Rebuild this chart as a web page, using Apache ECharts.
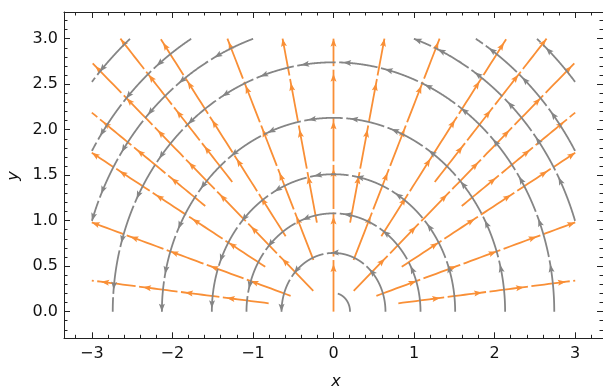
<!DOCTYPE html>
<html><head><meta charset="utf-8">
<script src="https://cdn.jsdelivr.net/npm/echarts@6/dist/echarts.min.js"></script>
<style>html,body{margin:0;padding:0;background:#fff}#c{width:603px;height:389px}</style>
</head><body><div id="c"></div>
<script>
// ---- data ----
const fieldX = [-3, 3];
const fieldY = [0, 3];
// orange (radial, outward) stream lines: direction angle (deg) and starting radius
const radialAngles = [90, 78.1, 66.3, 54.4, 48.6, 42.4, 36.1, 30.2, 18.1, 6.5,
                      101.9, 113.7, 125.6, 131.4, 137.6, 143.9, 149.8, 161.9, 173.5];
const radialStarts = [0, 1.0, 0.62, 1.02, 1.9, 0.34, 1.97, 0.98, 0.56, 0.81,
                      1.0, 0.62, 1.02, 1.9, 0.34, 1.97, 0.98, 0.56, 0.81];
// gray (circular, counter-clockwise) stream lines: radius, start/end angle (deg)
const arcRadii = [0.205, 0.645, 1.08, 1.51, 2.13, 2.74, 3.16, 3.48, 3.92];
const arcFrom  = [0, 0, 0, 0, 0, 0, 0, 0, 0];
const arcTo    = [75, 180, 180, 180, 180, 180, 180, 180, 180];
// ticks
const xMajor = [-3, -2, -1, 0, 1, 2, 3];
const xMinor = [-3.2, -2.8, -2.6, -2.4, -2.2, -1.8, -1.6, -1.4, -1.2, -0.8, -0.6, -0.4, -0.2,
                0.2, 0.4, 0.6, 0.8, 1.2, 1.4, 1.6, 1.8, 2.2, 2.4, 2.6, 2.8, 3.2];
const yMajor = [0, 0.5, 1, 1.5, 2, 2.5, 3];
const yMinor = [-0.2, -0.1, 0.1, 0.2, 0.3, 0.4, 0.6, 0.7, 0.8, 0.9, 1.1, 1.2, 1.3, 1.4,
                1.6, 1.7, 1.8, 1.9, 2.1, 2.2, 2.3, 2.4, 2.6, 2.7, 2.8, 2.9, 3.1, 3.2];
const xRange = [-3.345, 3.345];
const yRange = [-0.293, 3.293];

// ---- style ----
const ORANGE = '#f98f36';
const GRAY = '#858585';
const SEG = 0.523;      // arrow spacing along a stream line (data units)
const END_MIN = 0.3;    // min remainder to put an arrow at the end
const GAP_OFF = 4, GAP_LEN = 3.5; // px
const HL = 8, HW = 3;   // arrow head size px
const LW = 1.8;

const D2R = Math.PI / 180;
function inside(x, y) {
  return x >= fieldX[0] - 1e-9 && x <= fieldX[1] + 1e-9 && y >= fieldY[0] - 1e-9 && y <= fieldY[1] + 1e-9;
}
// radial lines
const orangeLines = radialAngles.map((a, i) => {
  const c = Math.cos(a * D2R), s = Math.sin(a * D2R);
  let re = Infinity;
  if (c > 1e-9) re = Math.min(re, fieldX[1] / c);
  if (c < -1e-9) re = Math.min(re, fieldX[0] / c);
  if (s > 1e-9) re = Math.min(re, fieldY[1] / s);
  const rs = radialStarts[i];
  const pts = [];
  const n = 40;
  for (let k = 0; k <= n; k++) {
    const r = rs + (re - rs) * k / n;
    pts.push([r * c, r * s]);
  }
  return pts;
});
// arcs (clipped to field)
const grayLines = [];
arcRadii.forEach((r, i) => {
  let run = [];
  const step = 0.1;
  for (let a = arcFrom[i]; a <= arcTo[i] + 1e-9; a += step) {
    const x = r * Math.cos(a * D2R), y = r * Math.sin(a * D2R);
    if (inside(x, y)) run.push([x, y]);
    else { if (run.length > 1) grayLines.push(run); run = []; }
  }
  if (run.length > 1) grayLines.push(run);
});

function makeRender(lines, color) {
  return function (params, api) {
    const pts = lines[api.value(2)];
    const px = pts.map(p => api.coord(p));
    const sd = [0], sp = [0];
    for (let i = 1; i < pts.length; i++) {
      sd.push(sd[i - 1] + Math.hypot(pts[i][0] - pts[i - 1][0], pts[i][1] - pts[i - 1][1]));
      sp.push(sp[i - 1] + Math.hypot(px[i][0] - px[i - 1][0], px[i][1] - px[i - 1][1]));
    }
    const L = sd[sd.length - 1], Lp = sp[sp.length - 1];
    function d2p(s) {
      let i = 1;
      while (i < sd.length - 1 && sd[i] < s) i++;
      const f = sd[i] > sd[i - 1] ? (s - sd[i - 1]) / (sd[i] - sd[i - 1]) : 0;
      return sp[i - 1] + (sp[i] - sp[i - 1]) * f;
    }
    function at(t) {
      let i = 1;
      while (i < sp.length - 1 && sp[i] < t) i++;
      const f = sp[i] > sp[i - 1] ? (t - sp[i - 1]) / (sp[i] - sp[i - 1]) : 0;
      const a = px[i - 1], b = px[i];
      return { p: [a[0] + (b[0] - a[0]) * f, a[1] + (b[1] - a[1]) * f], d: [b[0] - a[0], b[1] - a[1]], i: i };
    }
    const tips = [];
    let s = SEG;
    for (; s <= L + 1e-9; s += SEG) tips.push(s);
    const last = tips.length ? tips[tips.length - 1] : 0;
    if (L - last > END_MIN) tips.push(L);
    const tipsP = tips.map(d2p);
    const children = [];
    // line pieces
    let cur = 0;
    const pieces = [];
    tipsP.forEach(t => {
      const g0 = t + GAP_OFF, g1 = t + GAP_OFF + GAP_LEN;
      if (g0 >= Lp) return;
      if (g0 > cur) pieces.push([cur, g0]);
      cur = Math.max(cur, g1);
    });
    if (cur < Lp) pieces.push([cur, Lp]);
    pieces.forEach(([a, b]) => {
      const A = at(a), B = at(b);
      const pl = [A.p];
      for (let i = 0; i < sp.length; i++) if (sp[i] > a && sp[i] < b) pl.push(px[i]);
      pl.push(B.p);
      children.push({ type: 'polyline', shape: { points: pl }, style: { stroke: color, lineWidth: LW, fill: null } });
    });
    // arrow heads
    tipsP.forEach(t => {
      const T = at(t);
      const len = Math.hypot(T.d[0], T.d[1]) || 1;
      const u = [T.d[0] / len, T.d[1] / len], n = [-u[1], u[0]];
      const P = T.p;
      children.push({
        type: 'polygon',
        shape: { points: [
          P,
          [P[0] - u[0] * HL + n[0] * HW, P[1] - u[1] * HL + n[1] * HW],
          [P[0] - u[0] * HL * 0.8, P[1] - u[1] * HL * 0.8],
          [P[0] - u[0] * HL - n[0] * HW, P[1] - u[1] * HL - n[1] * HW]
        ] },
        style: { fill: color }
      });
    });
    return { type: 'group', children: children };
  };
}

const FRAME = '#222';
const LABEL = { color: '#111', fontSize: 16, fontFamily: 'DejaVu Sans' };
function xAx(pos, values, len, showLine, labels) {
  return {
    type: 'value', position: pos, min: xRange[0], max: xRange[1],
    axisLine: { show: showLine, onZero: false, lineStyle: { color: FRAME, width: 1 } },
    axisTick: { show: true, inside: true, length: len, customValues: values, lineStyle: { color: FRAME } },
    axisLabel: labels ? Object.assign({ show: true, margin: 8, customValues: values,
      formatter: v => (v < 0 ? '\u2212' + (-v) : String(v)) }, LABEL) : { show: false },
    splitLine: { show: false }
  };
}
function yAx(pos, values, len, showLine, labels) {
  return {
    type: 'value', position: pos, min: yRange[0], max: yRange[1],
    axisLine: { show: showLine, onZero: false, lineStyle: { color: FRAME, width: 1 } },
    axisTick: { show: true, inside: true, length: len, customValues: values, lineStyle: { color: FRAME } },
    axisLabel: labels ? Object.assign({ show: true, margin: 6, customValues: values,
      formatter: v => v.toFixed(1) }, LABEL) : { show: false },
    splitLine: { show: false }
  };
}

const chart = echarts.init(document.getElementById('c'), null, { renderer: 'canvas' });
chart.setOption({
  animation: false,
  backgroundColor: '#fff',
  grid: { left: 64, top: 12, width: 543.6, height: 326.3, containLabel: false },
  xAxis: [
    xAx('bottom', xMajor, 6, true, true),
    xAx('bottom', xMinor, 3.5, false, false),
    xAx('top', xMajor, 6, true, false),
    xAx('top', xMinor, 3.5, false, false)
  ],
  yAxis: [
    yAx('left', yMajor, 6, true, true),
    yAx('left', yMinor, 3.5, false, false),
    yAx('right', yMajor, 6, true, false),
    yAx('right', yMinor, 3.5, false, false)
  ],
  graphic: [
    { type: 'text', x: 336, y: 382, style: { text: 'x', font: 'italic 16px "DejaVu Sans"', fill: '#111', align: 'center', verticalAlign: 'middle' } },
    { type: 'text', x: 14, y: 176, rotation: Math.PI / 2, style: { text: 'y', font: 'italic 16px "DejaVu Sans"', fill: '#111', align: 'center', verticalAlign: 'middle' } }
  ],
  series: [
    { type: 'custom', name: 'radial', xAxisIndex: 0, yAxisIndex: 0, encode: { x: 0, y: 1 },
      data: orangeLines.map((_, i) => [0, 0, i]), renderItem: makeRender(orangeLines, ORANGE), silent: true },
    { type: 'custom', name: 'circular', xAxisIndex: 0, yAxisIndex: 0, encode: { x: 0, y: 1 },
      data: grayLines.map((_, i) => [0, 0, i]), renderItem: makeRender(grayLines, GRAY), silent: true }
  ]
});
</script></body></html>
